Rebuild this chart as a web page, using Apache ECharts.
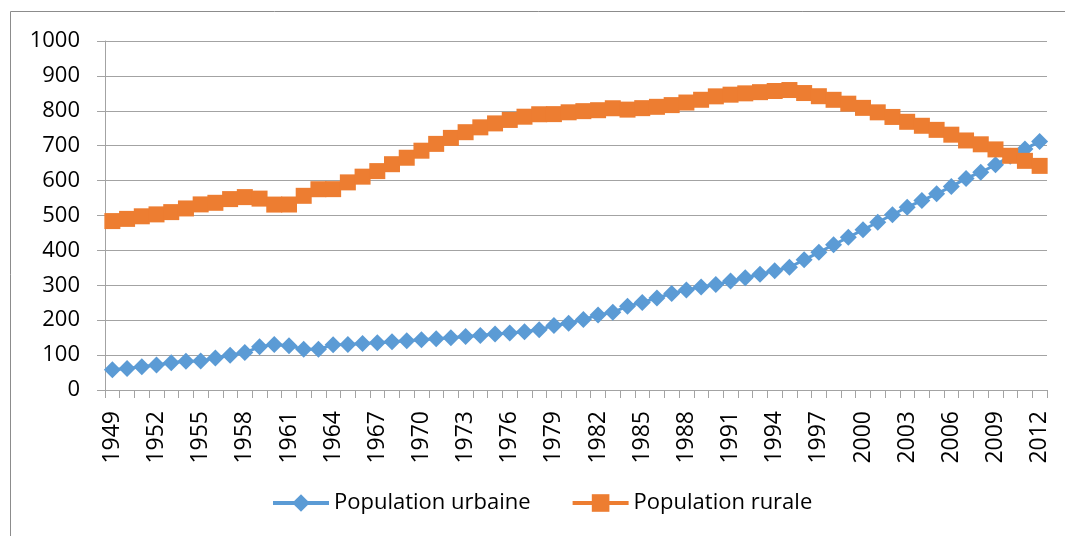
<!DOCTYPE html>
<html>
<head>
<meta charset="utf-8">
<script src="https://cdn.jsdelivr.net/npm/echarts@6/dist/echarts.min.js"></script>
<style>
  html, body { margin: 0; padding: 0; background: #fff; }
  #chart { width: 1065px; height: 536px; }
</style>
</head>
<body>
<div id="chart"></div>
<script>
// years 1949 - 2012
const years = []
for (let y = 1949; y <= 2012; y++) years.push(String(y))

// population urbaine (millions)
const urbaine = [
  57.7, 61.7, 66.3, 71.6, 78.3, 82.5, 82.9, 91.9, 99.5, 107.2,
  123.7, 130.7, 127.1, 116.6, 116.5, 129.5, 130.5, 133.1, 135.5, 138.4,
  141.2, 144.2, 147.1, 149.4, 153.5, 156.0, 160.3, 163.4, 166.7, 172.5,
  185.0, 191.4, 201.7, 214.8, 222.7, 240.2, 250.9, 263.7, 276.7, 286.6,
  295.4, 302.0, 312.0, 321.8, 331.7, 341.7, 351.7, 373.0, 394.5, 416.1,
  437.5, 459.1, 480.6, 502.1, 523.8, 542.8, 562.1, 582.9, 606.3, 624.0,
  645.1, 669.8, 690.8, 711.8
]

// population rurale (millions)
const rurale = [
  484.0, 490.3, 497.7, 503.2, 509.7, 520.2, 531.8, 536.4, 547.0, 552.7,
  548.4, 531.3, 531.5, 556.4, 575.3, 575.5, 594.9, 611.3, 627.2, 647.0,
  665.5, 685.7, 705.2, 722.4, 738.7, 752.6, 763.9, 773.8, 783.1, 790.1,
  790.5, 795.7, 799.0, 801.7, 807.3, 803.4, 807.6, 811.4, 816.3, 823.7,
  831.6, 841.4, 846.2, 850.0, 853.4, 856.8, 859.5, 850.9, 841.8, 831.5,
  820.4, 808.4, 795.6, 782.4, 768.5, 757.1, 745.4, 731.6, 715.0, 704.0,
  689.4, 671.1, 656.6, 642.2
]

const seriesNames = ['Population urbaine', 'Population rurale']
const colors = ['#5B9BD5', '#ED7D31']

const axisGray = '#a3a3a3'
const fontFamily = '"Open Sans", sans-serif'

let myChart = echarts.init(document.getElementById('chart'))

let option = {
  animation: false,
  color: colors,
  textStyle: { fontFamily: fontFamily },
  graphic: [
    {
      type: 'rect',
      shape: { x: 10.5, y: 11.5, width: 1100, height: 600 },
      style: { fill: 'none', stroke: '#8c8c8c', lineWidth: 1 },
      silent: true,
    },
  ],
  grid: {
    left: 105,
    right: 18,
    top: 41,
    bottom: 146,
  },
  legend: {
    data: seriesNames,
    left: 266,
    top: 487,
    itemWidth: 56,
    itemHeight: 22,
    itemGap: 40,
    lineStyle: { width: 4 },
    textStyle: { fontSize: 22, color: '#000', fontFamily: fontFamily },
  },
  xAxis: {
    type: 'category',
    boundaryGap: true,
    data: years,
    axisLine: { lineStyle: { color: axisGray, width: 1 } },
    axisTick: { show: true, interval: 0, length: 8, lineStyle: { color: axisGray } },
    axisLabel: {
      interval: 2,
      rotate: 90,
      fontSize: 23,
      color: '#000',
      margin: 21,
      fontFamily: fontFamily,
    },
    splitLine: { show: false },
  },
  yAxis: {
    type: 'value',
    min: 0,
    max: 1000,
    interval: 100,
    axisLine: { show: true, lineStyle: { color: axisGray, width: 1 } },
    axisTick: { show: true, length: 8, lineStyle: { color: axisGray } },
    axisLabel: {
      fontSize: 22,
      color: '#000',
      margin: 25,
      fontFamily: fontFamily,
      formatter: (v) => String(v),
    },
    splitLine: { show: true, lineStyle: { color: axisGray, width: 1 } },
  },
  series: [
    {
      name: seriesNames[0],
      type: 'line',
      data: urbaine,
      symbol: 'diamond',
      symbolSize: [17, 17],
      showAllSymbol: true,
      lineStyle: { width: 3, color: colors[0] },
      itemStyle: { color: colors[0] },
    },
    {
      name: seriesNames[1],
      type: 'line',
      data: rurale,
      symbol: 'rect',
      symbolSize: [16, 16],
      showAllSymbol: true,
      lineStyle: { width: 3, color: colors[1] },
      itemStyle: { color: colors[1] },
    },
  ],
}

myChart.setOption(option)
</script>
</body>
</html>
